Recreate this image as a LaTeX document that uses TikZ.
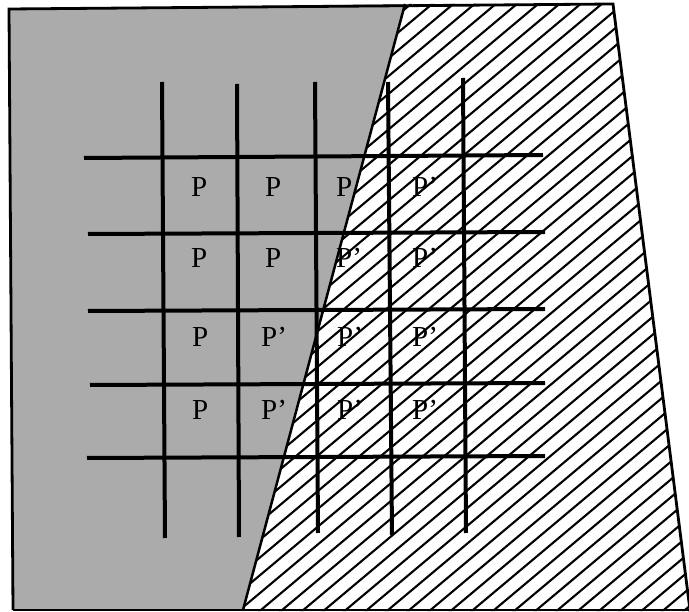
\documentclass[tikz,border=0pt]{standalone}
\usepackage{fontspec}
\setmainfont{Liberation Serif}
\begin{document}
\begin{tikzpicture}[x=1pt,y=-1pt,
  gridline/.style={line width=4pt},
  frameline/.style={line width=2.8pt, line join=miter},
  hatchline/.style={line width=2.1pt},
  stipple/.style={fill=black!33},
  lbl/.style={anchor=base west, inner sep=0pt, font=\fontsize{29}{29}\selectfont}]
\useasboundingbox (0,0) rectangle (689,612);
% regions
\fill[stipple] (9,9) -- (405,4) -- (243,610) -- (13,610) -- cycle;
\begin{scope}
  \clip (405,4) -- (613,4) -- (690,605) -- (690,611) -- (243,611) -- cycle;
  \foreach \k in {0,...,75} {
    \draw[hatchline] ({-811+21.2*\k},620) -- ++(900,-755);
  }
\end{scope}
% frame and boundary
\draw[frameline] (13,610) -- (9,9) -- (613,4) -- (691,618);
\draw[frameline] (13,610) -- (689,610);
\draw[line width=2.5pt] (405,4) -- (243,610);
% grid
\draw[gridline] (162,82) -- (165,538);
\draw[gridline] (237,84) -- (239,537);
\draw[gridline] (315,82) -- (318,533);
\draw[gridline] (388,82) -- (392,535);
\draw[gridline] (463,78) -- (466,533);
\draw[gridline] (84,158) -- (543,155);
\draw[gridline] (88,234) -- (545,232);
\draw[gridline] (88,311) -- (545,309);
\draw[gridline] (90,385) -- (545,383);
\draw[gridline] (87,458) -- (545,456);
% labels
\node[lbl] (a1) at (191,197) {P};
\node[lbl] (a2) at (265,197) {P};
\node[lbl] (a3) at (336,197) {P};
\node[lbl] (a4) at (412,197) {P'};
\node[lbl] (b1) at (191,268) {P};
\node[lbl] (b2) at (265,268) {P};
\node[lbl] (b3) at (336,268) {P'};
\node[lbl] (b4) at (412,268) {P'};
\node[lbl] (c1) at (192,347) {P};
\node[lbl] (c2) at (261,347) {P'};
\node[lbl] (c3) at (337,347) {P'};
\node[lbl] (c4) at (412,347) {P'};
\node[lbl] (d1) at (192,420) {P};
\node[lbl] (d2) at (261,420) {P'};
\node[lbl] (d3) at (337,420) {P'};
\node[lbl] (d4) at (412,420) {P'};
\end{tikzpicture}
\end{document}
